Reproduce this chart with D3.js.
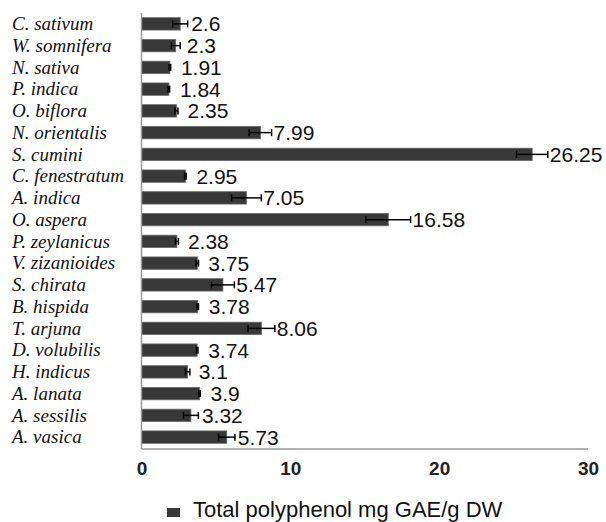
<!DOCTYPE html>
<html>
<head>
<meta charset="utf-8">
<script src="https://cdn.jsdelivr.net/npm/d3@7/dist/d3.min.js"></script>
<style>
  html, body { margin: 0; padding: 0; background: #fff; }
  svg { display: block; }
</style>
</head>
<body>
<svg id="chart" width="606" height="522"></svg>
<script>
// Plant species (top to bottom)
const species = [
  "C. sativum", "W. somnifera", "N. sativa", "P. indica", "O. biflora",
  "N. orientalis", "S. cumini", "C. fenestratum", "A. indica", "O. aspera",
  "P. zeylanicus", "V. zizanioides", "S. chirata", "B. hispida", "T. arjuna",
  "D. volubilis", "H. indicus", "A. lanata", "A. sessilis", "A. vasica"
];
// Total polyphenol content, mg GAE/g DW
const polyphenol = [
  2.6, 2.3, 1.91, 1.84, 2.35,
  7.99, 26.25, 2.95, 7.05, 16.58,
  2.38, 3.75, 5.47, 3.78, 8.06,
  3.74, 3.1, 3.9, 3.32, 5.73
];
// Standard deviation of each measurement
const stdDev = [
  0.5, 0.3, 0.05, 0.05, 0.1,
  0.75, 1.05, 0.05, 1.0, 1.5,
  0.1, 0.08, 0.77, 0.05, 0.9,
  0.05, 0.15, 0.05, 0.5, 0.55
];
const xTicks = [0, 10, 20, 30];
const seriesName = "Total polyphenol mg GAE/g DW";

const data = species.map((s, i) => ({ name: s, value: polyphenol[i], err: stdDev[i] }));

const svg = d3.select("#chart");
const margin = { left: 141.5, right: 18, top: 13, bottom: 74 };
const W = 606, H = 522;

const x = d3.scaleLinear().domain([0, 30]).range([margin.left, W - margin.right]);
const y = d3.scaleBand().domain(species).range([margin.top, H - margin.bottom]).paddingInner(0.43).paddingOuter(0.215);

// Bars
svg.append("g").selectAll("rect").data(data).join("rect")
  .attr("x", x(0))
  .attr("y", d => y(d.name))
  .attr("width", d => x(d.value) - x(0))
  .attr("height", y.bandwidth())
  .attr("fill", "#383838")
  .attr("stroke", "#6a6a6a")
  .attr("stroke-width", 0.8);

// Error bars
const eb = svg.append("g").attr("stroke", "#000").attr("stroke-width", 1.5);
data.forEach(d => {
  const cy = y(d.name) + y.bandwidth() / 2;
  const x1 = x(d.value - d.err), x2 = x(d.value + d.err);
  eb.append("line").attr("x1", x1).attr("x2", x2).attr("y1", cy).attr("y2", cy);
  eb.append("line").attr("x1", x1).attr("x2", x1).attr("y1", cy - 3.5).attr("y2", cy + 3.5);
  eb.append("line").attr("x1", x2).attr("x2", x2).attr("y1", cy - 3.5).attr("y2", cy + 3.5);
});

// Value labels
svg.append("g").selectAll("text").data(data).join("text")
  .attr("x", d => Math.max(x(d.value + d.err) + 2, x(d.value) + 11))
  .attr("y", d => y(d.name) + y.bandwidth() / 2)
  .attr("dy", "0.36em")
  .attr("font-family", "Liberation Sans, Arial, sans-serif")
  .attr("font-size", 21)
  .attr("fill", "#111")
  .text(d => d.value);

// Category labels
svg.append("g").selectAll("text").data(data).join("text")
  .attr("x", 12)
  .attr("y", d => y(d.name) + y.bandwidth() / 2)
  .attr("dy", "0.33em")
  .attr("font-family", "Liberation Serif, Times New Roman, serif")
  .attr("font-style", "italic")
  .attr("font-size", 19)
  .attr("fill", "#111")
  .text(d => d.name);

// Axis lines
svg.append("line")
  .attr("x1", x(0)).attr("x2", x(0))
  .attr("y1", margin.top).attr("y2", H - margin.bottom + 1)
  .attr("stroke", "#9a9a9a").attr("stroke-width", 1.5);
svg.append("line")
  .attr("x1", x(0)).attr("x2", x(30))
  .attr("y1", H - margin.bottom + 1).attr("y2", H - margin.bottom + 1)
  .attr("stroke", "#9a9a9a").attr("stroke-width", 1.5);

// X tick labels
const xAxis = d3.axisBottom(x).tickValues(xTicks).tickSize(0).tickPadding(0);
const gx = svg.append("g").attr("transform", `translate(0, ${H - margin.bottom + 35})`).call(xAxis);
gx.select(".domain").remove();
gx.selectAll("text")
  .attr("font-family", "Liberation Sans, Arial, sans-serif")
  .attr("font-size", 19)
  .attr("font-weight", "bold")
  .attr("fill", "#222")
  .attr("dy", "-0.4em");

// Legend
const lg = svg.append("g");
lg.append("rect").attr("x", 167).attr("y", 508).attr("width", 13).attr("height", 9).attr("fill", "#383838");
lg.append("text")
  .attr("x", 193).attr("y", 517)
  .attr("font-family", "Liberation Sans, Arial, sans-serif")
  .attr("font-size", 22)
  .attr("fill", "#111")
  .text(seriesName);
</script>
</body>
</html>
